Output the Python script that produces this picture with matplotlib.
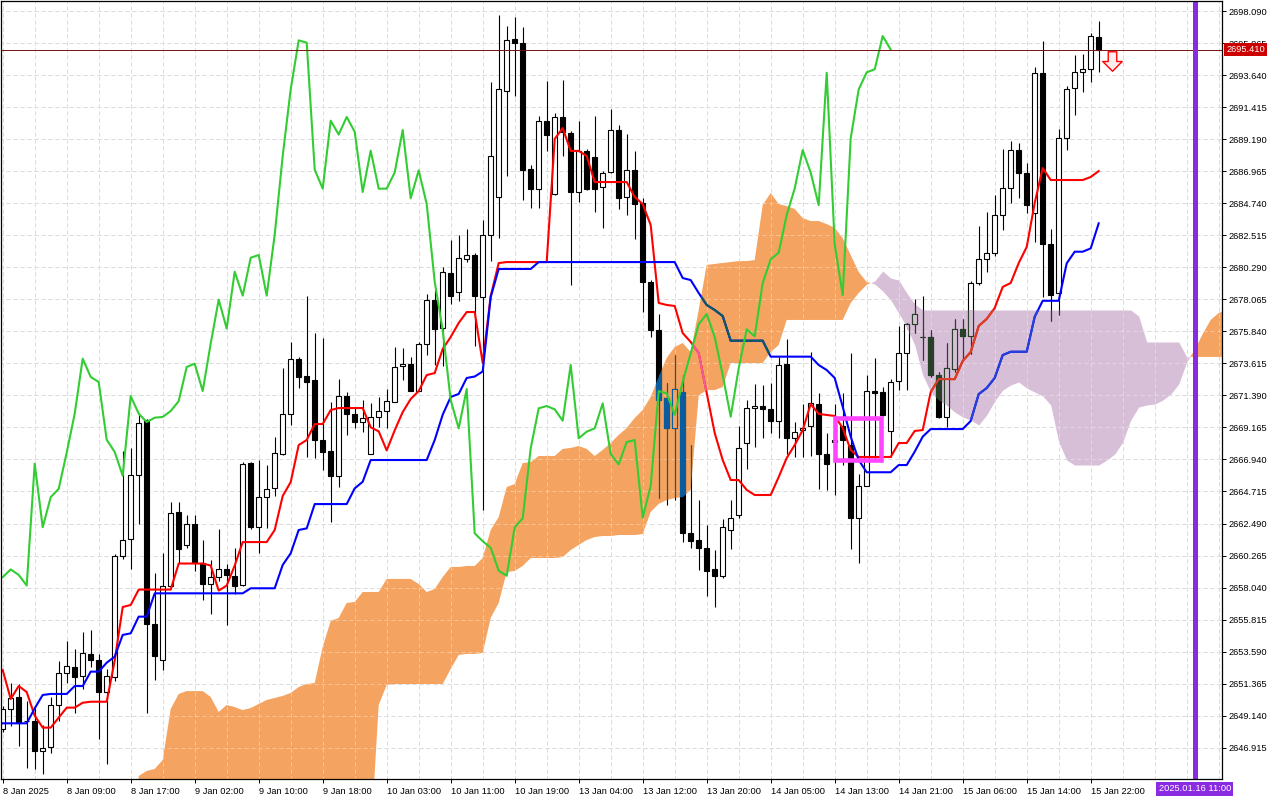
import numpy as np
import matplotlib.pyplot as plt
from matplotlib.path import Path
from matplotlib.patches import Rectangle
from matplotlib.transforms import blended_transform_factory

plt.rcParams['font.family'] = ['Liberation Sans', 'DejaVu Sans']

# hourly candles, 8 Jan 2025 01:00 .. 15 Jan 2025 23:00
opens = [
    2648.24, 2649.63, 2650.46, 2648.79, 2648.79, 2646.67, 2646.94, 2649.91, 2652.10, 2652.55,
    2651.87, 2653.45, 2653.01, 2650.76, 2651.85, 2660.20, 2661.43, 2665.83, 2669.70, 2655.52,
    2653.01, 2658.13, 2663.28, 2661.01, 2662.47, 2659.73, 2658.30, 2658.76, 2659.30, 2658.87,
    2658.23, 2666.71, 2662.23, 2664.32, 2664.97, 2667.34, 2670.12, 2673.94, 2672.72, 2672.45,
    2668.27, 2667.50, 2665.81, 2671.34, 2670.12, 2669.54, 2667.34, 2669.89, 2670.30, 2670.94,
    2673.41, 2673.59, 2671.69, 2674.95, 2678.04, 2676.06, 2679.91, 2678.57, 2680.89, 2681.14,
    2678.24, 2682.52, 2685.15, 2692.53, 2696.17, 2695.89, 2687.14, 2685.75, 2690.47, 2685.38,
    2690.73, 2689.63, 2685.52, 2688.39, 2687.95, 2685.86, 2686.90, 2689.82, 2685.15, 2687.02,
    2684.73, 2679.29, 2675.92, 2671.20, 2669.10, 2671.65, 2661.83, 2661.31, 2660.80, 2659.30,
    2658.86, 2662.04, 2663.08, 2668.06, 2670.49, 2670.65, 2670.42, 2669.63, 2673.57, 2668.41,
    2668.98, 2669.26, 2670.79, 2667.30, 2668.29, 2669.28, 2667.94, 2662.89, 2665.11, 2671.69,
    2671.65, 2668.92, 2672.39, 2674.31, 2676.35, 2675.45, 2675.42, 2672.80, 2669.91, 2673.20,
    2675.98, 2675.51, 2679.18, 2680.84, 2681.30, 2683.92, 2685.77, 2688.43, 2686.82, 2684.04,
    2693.80, 2681.88, 2678.48, 2689.25, 2692.72, 2693.83, 2694.04, 2696.26]
highs = [
    2649.84, 2651.43, 2651.37, 2650.19, 2649.70, 2648.51, 2650.46, 2652.96, 2654.36, 2653.80,
    2654.98, 2655.12, 2653.45, 2652.41, 2660.34, 2667.50, 2667.71, 2670.14, 2669.75, 2659.02,
    2660.41, 2663.95, 2663.95, 2663.05, 2663.05, 2661.31, 2659.92, 2662.14, 2659.71, 2660.82,
    2666.73, 2666.75, 2666.87, 2666.52, 2668.47, 2673.27, 2675.08, 2674.03, 2678.28, 2675.70,
    2675.36, 2670.90, 2672.52, 2671.62, 2670.56, 2671.06, 2670.86, 2671.27, 2671.83, 2674.74,
    2674.67, 2674.03, 2675.08, 2678.42, 2678.71, 2680.29, 2682.18, 2682.52, 2682.94, 2681.28,
    2683.57, 2693.16, 2697.81, 2697.05, 2697.67, 2697.01, 2687.39, 2690.83, 2693.23, 2691.00,
    2693.30, 2689.75, 2690.45, 2688.50, 2690.80, 2686.97, 2691.28, 2690.17, 2689.58, 2688.37,
    2685.10, 2679.40, 2677.04, 2672.25, 2674.17, 2672.80, 2667.94, 2664.12, 2662.42, 2660.62,
    2662.77, 2664.12, 2669.27, 2671.06, 2672.18, 2672.11, 2672.25, 2674.03, 2675.30, 2669.54,
    2670.79, 2674.40, 2671.56, 2668.78, 2670.79, 2671.56, 2674.33, 2665.93, 2672.80, 2673.98,
    2671.97, 2672.52, 2676.21, 2676.42, 2678.08, 2678.29, 2675.93, 2673.01, 2675.03, 2676.69,
    2676.69, 2679.34, 2683.15, 2684.13, 2685.31, 2688.50, 2689.06, 2688.92, 2687.53, 2694.20,
    2696.00, 2682.95, 2689.89, 2692.88, 2695.03, 2695.10, 2696.56, 2697.40]
lows = [
    2648.03, 2648.45, 2647.06, 2645.53, 2645.46, 2645.11, 2646.57, 2648.79, 2651.43, 2649.35,
    2651.02, 2652.55, 2647.54, 2645.80, 2651.57, 2659.99, 2659.36, 2662.49, 2649.35, 2651.64,
    2652.34, 2658.04, 2659.78, 2660.82, 2659.22, 2657.21, 2656.23, 2658.53, 2655.47, 2657.62,
    2658.18, 2662.14, 2660.41, 2662.21, 2664.37, 2667.22, 2669.30, 2671.88, 2667.08, 2667.01,
    2666.18, 2662.56, 2665.02, 2668.61, 2669.10, 2668.82, 2667.29, 2669.17, 2669.10, 2670.92,
    2672.45, 2671.67, 2671.67, 2674.17, 2673.48, 2673.41, 2677.73, 2677.94, 2680.64, 2674.81,
    2663.43, 2680.71, 2682.32, 2686.63, 2692.22, 2684.96, 2684.41, 2684.41, 2688.37, 2685.30,
    2688.02, 2679.06, 2684.79, 2685.66, 2684.13, 2683.02, 2686.83, 2684.34, 2683.92, 2682.25,
    2677.18, 2675.42, 2664.26, 2663.78, 2664.12, 2661.20, 2660.82, 2659.26, 2657.48, 2656.69,
    2658.69, 2660.75, 2662.87, 2666.27, 2667.80, 2668.42, 2668.77, 2668.42, 2667.32, 2667.11,
    2667.11, 2667.18, 2664.89, 2664.82, 2664.47, 2666.55, 2660.75, 2659.75, 2665.09, 2666.90,
    2669.96, 2667.11, 2671.76, 2671.76, 2675.72, 2673.85, 2672.67, 2669.82, 2669.19, 2673.01,
    2673.85, 2674.26, 2679.06, 2679.96, 2681.07, 2682.88, 2684.75, 2685.10, 2684.06, 2682.04,
    2678.22, 2676.56, 2676.97, 2688.43, 2690.87, 2692.46, 2693.16, 2693.85]
closes = [
    2649.63, 2650.40, 2648.65, 2648.79, 2646.71, 2646.92, 2649.91, 2652.08, 2652.57, 2651.85,
    2653.50, 2653.01, 2650.76, 2651.92, 2660.20, 2661.36, 2665.83, 2669.49, 2655.52, 2653.26,
    2658.13, 2663.23, 2660.73, 2662.47, 2659.73, 2658.30, 2658.76, 2659.30, 2658.92, 2658.18,
    2666.64, 2662.23, 2664.32, 2664.90, 2667.41, 2670.12, 2673.94, 2672.67, 2672.32, 2668.31,
    2667.46, 2665.81, 2671.34, 2670.12, 2669.54, 2669.84, 2669.89, 2670.30, 2670.99, 2673.36,
    2673.59, 2671.69, 2674.99, 2678.04, 2676.03, 2679.98, 2678.32, 2680.95, 2681.14, 2678.32,
    2682.55, 2688.02, 2692.65, 2696.05, 2695.89, 2687.07, 2685.75, 2690.47, 2689.51, 2690.73,
    2689.70, 2685.52, 2688.39, 2685.75, 2685.75, 2686.87, 2689.82, 2685.08, 2687.02, 2684.68,
    2679.29, 2675.92, 2671.06, 2669.10, 2671.83, 2661.81, 2661.26, 2660.80, 2659.21, 2658.86,
    2662.22, 2662.85, 2667.71, 2670.49, 2670.65, 2670.42, 2669.63, 2673.50, 2668.41, 2668.87,
    2669.10, 2670.84, 2667.32, 2666.60, 2668.15, 2668.29, 2662.89, 2665.11, 2671.69, 2671.53,
    2670.03, 2672.34, 2674.31, 2676.33, 2677.04, 2675.45, 2672.80, 2669.91, 2673.27, 2675.98,
    2675.49, 2679.20, 2680.84, 2681.30, 2683.92, 2685.77, 2688.43, 2686.86, 2684.61, 2693.80,
    2681.88, 2678.36, 2689.25, 2692.65, 2693.83, 2694.04, 2696.35, 2695.41]

# Ichimoku lines
tenkan = [
    2652.31, 2650.30, 2651.20, 2650.78, 2649.14, 2648.31, 2648.31, 2649.00, 2649.70, 2649.70,
    2650.04, 2650.11, 2650.11, 2650.11, 2652.97, 2656.69, 2656.83, 2657.90, 2657.90, 2657.90,
    2657.90, 2657.90, 2659.71, 2659.71, 2659.71, 2659.71, 2659.57, 2657.83, 2658.18, 2659.57,
    2661.20, 2661.20, 2661.20, 2661.20, 2662.04, 2664.40, 2665.37, 2667.94, 2668.29, 2669.40,
    2669.40, 2670.37, 2670.51, 2670.51, 2670.51, 2670.51, 2669.17, 2668.89, 2667.57, 2668.96,
    2670.23, 2671.14, 2671.69, 2672.80, 2672.94, 2674.61, 2675.45, 2676.42, 2677.18, 2677.18,
    2673.64, 2678.29, 2680.58, 2680.65, 2680.65, 2680.65, 2680.65, 2680.65, 2680.65, 2689.20,
    2689.96, 2688.37, 2688.37, 2688.02, 2686.21, 2686.21, 2686.21, 2686.21, 2686.21, 2685.17,
    2684.68, 2683.22, 2677.81, 2677.67, 2677.60, 2675.72, 2675.10, 2674.33, 2671.55, 2668.78,
    2666.90, 2665.51, 2665.51, 2664.82, 2664.47, 2664.47, 2664.47, 2665.72, 2667.04, 2667.94,
    2668.98, 2670.79, 2670.10, 2670.03, 2669.96, 2669.12, 2667.60, 2667.11, 2667.11, 2667.11,
    2667.11, 2667.11, 2668.08, 2668.08, 2668.92, 2668.98, 2671.62, 2672.52, 2672.52, 2672.52,
    2673.78, 2674.40, 2676.21, 2676.70, 2677.46, 2678.92, 2679.20, 2680.58, 2681.70, 2684.75,
    2687.18, 2686.35, 2686.35, 2686.35, 2686.35, 2686.35, 2686.56, 2686.97]
kijun = [
    2648.61, 2648.61, 2648.61, 2648.61, 2649.65, 2650.58, 2650.65, 2650.65, 2650.65, 2651.20,
    2651.20, 2652.20, 2652.20, 2652.82, 2653.24, 2654.75, 2654.86, 2656.02, 2656.02, 2657.64,
    2657.64, 2657.64, 2657.64, 2657.64, 2657.64, 2657.64, 2657.64, 2657.64, 2657.64, 2657.64,
    2657.64, 2657.99, 2657.99, 2657.99, 2657.99, 2659.61, 2660.42, 2662.04, 2662.15, 2663.84,
    2663.84, 2663.84, 2663.84, 2663.84, 2664.93, 2665.39, 2666.90, 2666.90, 2666.90, 2666.90,
    2666.90, 2666.90, 2666.90, 2666.90, 2668.29, 2670.05, 2671.28, 2671.49, 2672.60, 2672.70,
    2673.05, 2678.22, 2680.17, 2680.17, 2680.17, 2680.17, 2680.17, 2680.65, 2680.65, 2680.65,
    2680.65, 2680.65, 2680.65, 2680.65, 2680.65, 2680.65, 2680.65, 2680.65, 2680.65, 2680.65,
    2680.65, 2680.65, 2680.65, 2680.65, 2680.65, 2679.54, 2679.40, 2678.50, 2677.67, 2677.32,
    2676.90, 2675.19, 2675.19, 2675.19, 2675.19, 2675.19, 2674.08, 2674.08, 2674.08, 2674.08,
    2674.08, 2674.08, 2673.50, 2673.15, 2672.60, 2670.60, 2668.52, 2666.90, 2666.05, 2666.05,
    2666.05, 2666.05, 2666.55, 2666.55, 2667.48, 2668.52, 2669.05, 2669.05, 2669.05, 2669.05,
    2669.05, 2669.61, 2671.48, 2671.90, 2672.60, 2674.19, 2674.42, 2674.42, 2674.42, 2676.85,
    2677.96, 2677.96, 2677.96, 2680.56, 2681.37, 2681.37, 2681.60, 2683.34]

# cloud, first value sits on bar 17, runs 26 bars past the last candle
kumo_start = 17
span_a = [
    2644.95, 2645.30, 2645.44,
    2646.06, 2649.60, 2650.65, 2650.85, 2650.85, 2650.85, 2650.44, 2649.40, 2649.88, 2649.74,
    2649.53, 2649.67, 2649.95, 2650.23, 2650.37, 2650.51, 2650.72, 2651.13, 2651.34, 2651.41,
    2653.91, 2655.72, 2655.93, 2656.97, 2657.04, 2657.73, 2657.73, 2657.73, 2658.64, 2658.64,
    2658.64, 2658.64, 2658.29, 2657.73, 2657.94, 2658.77, 2659.47, 2659.47, 2659.54, 2659.54,
    2660.09, 2662.04, 2662.94, 2665.02, 2665.23, 2666.69, 2666.76, 2667.18, 2667.18, 2667.18,
    2667.67, 2667.74, 2667.87, 2667.67, 2667.18, 2667.60, 2668.08, 2668.64, 2669.12, 2669.82,
    2670.37, 2671.28, 2672.67, 2673.99, 2674.75, 2675.03, 2674.40, 2677.32, 2680.45, 2680.52,
    2680.59, 2680.65, 2680.72, 2680.72, 2680.79, 2684.61, 2685.45, 2684.68, 2684.54, 2684.34,
    2683.71, 2683.50, 2683.50, 2683.29, 2683.02, 2682.32, 2681.14, 2679.96, 2679.27, 2679.13,
    2678.64, 2678.02, 2677.11, 2676.14, 2674.89, 2672.80, 2671.62, 2671.06, 2670.72, 2670.23,
    2669.89, 2669.68, 2669.33, 2670.03, 2671.00, 2671.76, 2672.11, 2672.32, 2671.90, 2671.62,
    2671.35, 2670.72, 2668.15, 2666.90, 2666.55, 2666.55, 2666.55, 2666.55, 2666.90, 2667.32,
    2668.15, 2669.68, 2670.58, 2670.72, 2670.79, 2671.06, 2671.48, 2672.18, 2673.71, 2674.54,
    2675.65, 2676.63, 2677.11, 2677.32]
span_b = [
    2640.50, 2640.50, 2640.50,
    2640.50, 2640.50, 2640.50, 2640.50, 2640.50, 2640.50, 2640.50, 2640.50, 2640.50, 2640.50,
    2640.50, 2640.50, 2640.50, 2640.50, 2640.50, 2640.50, 2640.50, 2640.50, 2640.50, 2640.50,
    2640.50, 2640.50, 2640.50, 2640.50, 2640.50, 2640.50, 2640.50, 2649.88, 2651.27, 2651.34,
    2651.34, 2651.34, 2651.34, 2651.34, 2651.34, 2651.34, 2652.38, 2653.36, 2653.43, 2653.43,
    2653.50, 2655.93, 2656.97, 2659.12, 2659.19, 2659.54, 2660.09, 2660.09, 2660.09, 2660.09,
    2660.16, 2660.65, 2661.00, 2661.34, 2661.55, 2661.62, 2661.62, 2661.69, 2661.69, 2661.69,
    2661.76, 2663.29, 2663.85, 2664.12, 2664.26, 2664.33, 2664.82, 2671.39, 2671.76, 2671.76,
    2671.97, 2673.64, 2673.64, 2673.64, 2673.64, 2673.64, 2674.40, 2674.89, 2676.63, 2676.63,
    2676.63, 2676.63, 2676.63, 2676.63, 2676.63, 2676.63, 2677.81, 2678.50, 2679.06, 2679.34,
    2680.03, 2679.54, 2679.40, 2678.50, 2677.74, 2677.32, 2677.32, 2677.32, 2677.32, 2677.32,
    2677.32, 2677.32, 2677.32, 2677.32, 2677.32, 2677.32, 2677.32, 2677.32, 2677.32, 2677.32,
    2677.32, 2677.32, 2677.32, 2677.32, 2677.32, 2677.32, 2677.32, 2677.32, 2677.32, 2677.32,
    2677.32, 2677.32, 2676.90, 2675.10, 2675.10, 2675.10, 2675.10, 2675.10, 2674.06, 2674.06,
    2674.06, 2674.06, 2674.06, 2674.06]
chikou_shift = 26

price_ticks = [2646.915, 2649.140, 2651.365, 2653.590, 2655.815, 2658.040, 2660.265, 2662.490,
               2664.715, 2666.940, 2669.165, 2671.390, 2673.615, 2675.840, 2678.065, 2680.290,
               2682.515, 2684.740, 2686.965, 2689.190, 2691.415, 2693.640, 2695.865, 2698.090]
time_bars = [0, 8, 16, 24, 32, 40, 48, 56, 64, 72, 80, 88, 96, 104, 112, 120, 128, 136]
time_labels = ['8 Jan 2025', '8 Jan 09:00', '8 Jan 17:00', '9 Jan 02:00', '9 Jan 10:00',
               '9 Jan 18:00', '10 Jan 03:00', '10 Jan 11:00', '10 Jan 19:00', '13 Jan 04:00',
               '13 Jan 12:00', '13 Jan 20:00', '14 Jan 05:00', '14 Jan 13:00', '14 Jan 21:00',
               '15 Jan 06:00', '15 Jan 14:00', '15 Jan 22:00']

# objects drawn on the chart
marker_bar = 149
marker_text = '2025.01.16 11:00'
box_bars = (104.0, 109.8)
box_prices = (2666.90, 2669.85)
arrow_bar = 138.7
arrow_price = 2694.6

o = np.array(opens)
h = np.array(highs)
l = np.array(lows)
c = np.array(closes)
bars = np.arange(len(c))
assert len(o) == len(h) == len(l) == len(c) == len(tenkan) == len(kijun) == 138
assert len(span_a) == len(span_b)

fig = plt.figure(figsize=(12.8, 8), dpi=100)
ax = fig.add_axes([1 / 1280, 21 / 800, 1221 / 1280, 778 / 800])
ax.set_xlim(-0.2125, 152.4125)
ax.set_ylim(2644.742, 2698.785)

# grid: grey dashes on white, lightened dashes over the cloud
grid_bars = np.arange(0, 153, 4)
dash = (0, (4, 3))
for col, z in (('#C9C9C9', 0), ((1, 1, 1, 0.35), 1.5)):
    ax.hlines(price_ticks, -1, 160, colors=[col], lw=0.72, linestyles=[dash], zorder=z)
    ax.vlines(grid_bars, 2640, 2700, colors=[col], lw=0.72, linestyles=[dash], zorder=z)

# kumo
kb = np.arange(kumo_start, kumo_start + len(span_a))
sa = np.array(span_a)
sb = np.array(span_b)
kumo_up = ax.fill_between(kb, sa, sb, where=sa >= sb, interpolate=True,
                          color='#F4A460', lw=0, zorder=1)
kumo_dn = ax.fill_between(kb, sa, sb, where=sa < sb, interpolate=True,
                          color='#D8BFD8', lw=0, zorder=1)
clip_up = Path.make_compound_path(*kumo_up.get_paths())
clip_dn = Path.make_compound_path(*kumo_dn.get_paths())


def draw_candles(face_up, face_dn, edge, z, clip=None):
    up = c >= o
    arts = [ax.vlines(bars, l, h, colors=edge, lw=0.8, zorder=z)]
    arts += list(ax.bar(bars[up], (c - o)[up], 0.6, bottom=o[up], color=face_up,
                        edgecolor=edge, lw=0.8, zorder=z))
    arts += list(ax.bar(bars[~up], (o - c)[~up], 0.6, bottom=c[~up], color=face_dn,
                        edgecolor=edge, lw=0.8, zorder=z))
    if clip is not None:
        for a in arts:
            a.set_clip_path(clip, ax.transData)


def draw_lines(red, blue, z, clip=None):
    arts = ax.plot(bars, tenkan, color=red, lw=1.5, zorder=z)
    arts += ax.plot(bars, kijun, color=blue, lw=1.5, zorder=z)
    if clip is not None:
        for a in arts:
            a.set_clip_path(clip, ax.transData)


draw_candles('white', 'black', 'black', 2)
draw_lines('#FF0000', '#0000FF', 3)
# MetaTrader paints the cloud in xor mode, so things under it change colour
draw_candles('#F4A460', '#0B5B9F', '#0B5B9F', 4, clip_up)
draw_candles('#D8BFD8', '#274027', '#274027', 4, clip_dn)
draw_lines('#F45B9F', '#0B5B60', 5, clip_up)
draw_lines('#D84027', '#2740D8', 5, clip_dn)

# chikou span = closes drawn 26 bars back
ax.plot(bars[:-chikou_shift], c[chikou_shift:], color='#32CD32', lw=1.5, zorder=6)

# last price line and label
ax.axhline(c[-1], color='#7A1010', lw=0.7, zorder=6)
yblend = blended_transform_factory(ax.transAxes, ax.transData)
ax.text(1.0035, c[-1], f'{c[-1]:.3f}', transform=yblend, color='white', fontsize=6.7,
        va='center', ha='left', zorder=10, clip_on=False,
        bbox=dict(boxstyle='square,pad=0.2', fc='#CC0000', ec='none'))

# user objects
ax.axvline(marker_bar, color='#8A2BE2', lw=3.6, zorder=8)
ax.add_patch(Rectangle((box_bars[0], box_prices[0]), box_bars[1] - box_bars[0],
                       box_prices[1] - box_prices[0], fill=False, ec='#FF44FF',
                       lw=3.3, joinstyle='miter', zorder=7))
arrow = Path([(-0.22, 0.5), (0.22, 0.5), (0.22, 0.0), (0.5, 0.0), (0.0, -0.5),
              (-0.5, 0.0), (-0.22, 0.0), (-0.22, 0.5)], closed=True)
ax.plot([arrow_bar], [arrow_price], marker=arrow, ms=14, mfc='#FFECEC', mec='#FF0000',
        mew=1.0, ls='none', zorder=9)

xblend = blended_transform_factory(ax.transData, ax.transAxes)
ax.text(marker_bar, -0.0125, marker_text, transform=xblend, color='white', fontsize=6.7,
        va='center', ha='center', zorder=10, clip_on=False,
        bbox=dict(boxstyle='square,pad=0.25', fc='#8A2BE2', ec='none'))

# axes
ax.yaxis.tick_right()
ax.set_yticks(price_ticks)
ax.set_yticklabels([f'{p:.3f}' for p in price_ticks])
ax.set_xticks(time_bars)
ax.set_xticklabels(time_labels, ha='left')
ax.tick_params(axis='y', length=3, width=0.7, pad=1.5, labelsize=6.7, colors='black')
ax.tick_params(axis='x', length=3, width=0.7, pad=2.5, labelsize=6.7, colors='black')
for s in ax.spines.values():
    s.set_color('black')
    s.set_linewidth(0.9)
    s.set_zorder(11)

fig.savefig('out.png', dpi=100)
